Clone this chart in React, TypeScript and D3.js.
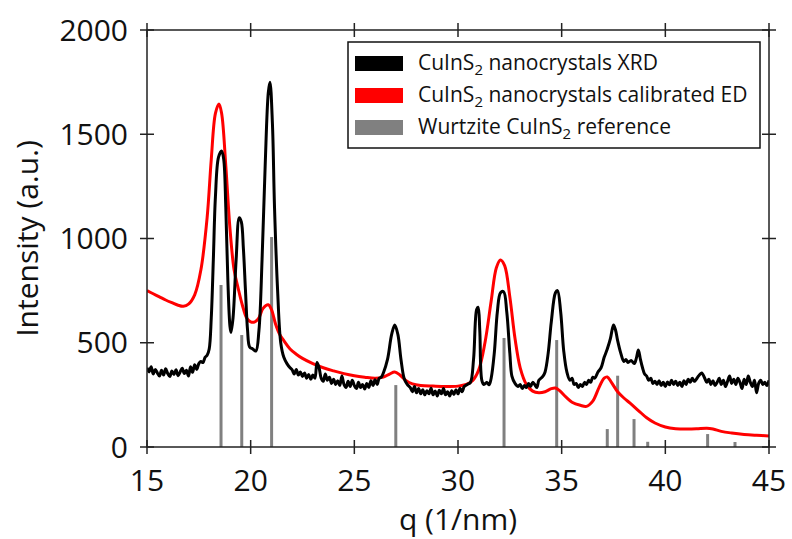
import React from "react";
import * as d3 from "d3";

// ---- data ----
const xrdQ = [15.0,15.1,15.2,15.3,15.4,15.5,15.6,15.7,15.8,15.9,16.0,16.1,16.2,16.3,16.4,16.5,16.6,16.7,16.8,16.9,17.0,17.1,17.2,17.3,17.4,17.5,17.6,17.7,17.8,17.9,18.0,18.1,18.2,18.3,18.45,18.6,18.7,18.8,18.9,19.0,19.05,19.15,19.3,19.45,19.55,19.65,19.75,19.85,19.95,20.1,20.25,20.4,20.55,20.7,20.85,20.93,21.05,21.15,21.3,21.45,21.6,21.75,21.9,22.0,22.1,22.2,22.3,22.4,22.5,22.6,22.7,22.8,22.9,23.0,23.1,23.2,23.3,23.4,23.5,23.6,23.7,23.8,23.9,24.0,24.1,24.2,24.3,24.4,24.5,24.6,24.7,24.8,24.9,25.0,25.1,25.2,25.3,25.4,25.5,25.6,25.7,25.8,25.9,26.0,26.1,26.2,26.3,26.4,26.6,26.8,26.95,27.1,27.25,27.4,27.55,27.7,27.8,27.9,28.0,28.1,28.2,28.3,28.4,28.5,28.6,28.7,28.8,28.9,29.0,29.1,29.2,29.3,29.4,29.5,29.6,29.7,29.8,29.9,30.0,30.1,30.2,30.3,30.45,30.6,30.75,30.9,30.97,31.05,31.15,31.25,31.4,31.5,31.6,31.75,31.9,32.05,32.2,32.35,32.5,32.6,32.75,32.9,33.0,33.1,33.2,33.3,33.4,33.5,33.6,33.7,33.8,33.9,34.0,34.1,34.2,34.35,34.5,34.7,34.8,34.95,35.1,35.25,35.4,35.5,35.6,35.7,35.8,35.9,36.0,36.1,36.2,36.3,36.4,36.5,36.6,36.75,36.9,37.05,37.2,37.35,37.5,37.6,37.7,37.85,38.0,38.1,38.2,38.35,38.5,38.6,38.7,38.8,38.9,39.0,39.1,39.2,39.3,39.4,39.5,39.6,39.7,39.8,39.9,40.0,40.1,40.2,40.3,40.4,40.5,40.6,40.7,40.8,40.9,41.0,41.1,41.2,41.3,41.4,41.6,41.75,41.9,42.0,42.1,42.2,42.3,42.4,42.5,42.6,42.7,42.8,42.9,43.0,43.1,43.2,43.3,43.4,43.5,43.6,43.7,43.8,43.9,44.0,44.1,44.2,44.3,44.4,44.5,44.6,44.7,44.8,44.9,45.0];
const xrdI = [380,360,385,350,372,355,340,368,345,375,352,338,365,348,370,342,360,378,352,368,340,385,358,395,372,400,410,405,430,440,470,620,900,1200,1390,1420,1380,1150,800,580,550,620,900,1100,1080,950,750,560,480,470,460,560,900,1350,1700,1750,1550,1150,750,500,430,400,380,370,350,372,345,360,338,355,330,348,325,345,330,405,380,330,315,350,320,335,305,325,300,318,295,340,300,285,315,290,320,295,280,310,285,300,278,305,285,318,295,322,300,330,335,355,420,540,585,540,420,330,300,285,265,290,260,280,255,275,250,270,255,282,250,268,245,272,255,280,250,265,245,270,252,275,255,282,265,290,300,310,420,660,670,560,320,300,310,298,330,450,650,740,745,650,450,340,305,290,300,280,295,285,305,290,310,300,285,320,330,340,360,450,600,740,750,650,460,360,320,330,300,305,285,300,290,310,300,320,310,335,330,360,380,430,470,520,585,560,510,450,410,420,405,415,400,425,465,420,380,350,340,320,330,305,315,300,318,295,310,290,312,298,320,300,315,295,310,290,318,300,325,310,330,315,340,355,330,310,325,300,318,295,310,330,300,320,290,315,340,305,325,300,330,310,280,325,300,340,310,290,320,260,305,320,300,310,295,320];

const edQ = [15.0,15.3,15.6,15.9,16.2,16.5,16.75,17.0,17.3,17.6,17.9,18.1,18.3,18.47,18.6,18.8,19.0,19.2,19.4,19.6,19.8,20.0,20.2,20.4,20.6,20.85,21.0,21.2,21.4,21.6,21.9,22.2,22.5,23.0,23.5,24.0,24.5,25.0,25.5,26.0,26.4,26.7,26.95,27.2,27.5,27.8,28.2,28.8,29.4,30.0,30.4,30.7,31.0,31.3,31.6,31.85,32.05,32.25,32.5,32.75,33.0,33.3,33.6,33.9,34.2,34.5,34.7,34.9,35.2,35.5,35.9,36.2,36.5,36.8,37.05,37.2,37.4,37.7,38.0,38.3,38.7,39.1,39.5,40.0,40.5,41.0,41.5,42.0,42.3,42.7,43.2,43.8,44.4,45.0];
const edI = [750,735,720,705,692,680,675,685,730,850,1100,1380,1600,1645,1600,1350,1050,850,760,680,620,600,600,620,665,682,660,590,540,510,470,445,425,400,380,365,352,342,335,330,335,350,360,345,318,303,295,292,290,292,300,318,370,500,700,860,897,870,720,520,380,300,268,260,265,280,283,270,240,215,200,195,220,285,330,336,310,265,235,210,175,140,115,96,88,86,87,90,86,75,67,60,56,53];

const refQ = [18.57,19.57,21.01,27.0,32.22,34.76,37.2,37.7,38.49,39.15,42.04,43.36];
const refI = [777,537,1007,297,523,513,86,342,134,25,62,24];

const xTicks = [15,20,25,30,35,40,45];
const yTicks = [0,500,1000,1500,2000];

const legendLabels = [
  ["CuInS", "2", " nanocrystals XRD"],
  ["CuInS", "2", " nanocrystals calibrated ED"],
  ["Wurtzite CuInS", "2", " reference"],
];
const legendColors = ["#000000", "#ff0000", "#808080"];

export default function App() {
  const W = 792, H = 539;
  const L = 147, R = 769, T = 30, B = 447;
  const x = d3.scaleLinear().domain([15, 45]).range([L, R]);
  const y = d3.scaleLinear().domain([0, 2000]).range([B, T]);
  const lineSmooth = d3.line<[number, number]>().x(d => x(d[0])).y(d => y(d[1])).curve(d3.curveCatmullRom.alpha(0.5));
  const xrd = xrdQ.map((q, i) => [q, xrdI[i]] as [number, number]);
  const ed = edQ.map((q, i) => [q, edI[i]] as [number, number]);
  const font = "'Open Sans', sans-serif";
  const tk = 7;
  return (
    <svg width={W} height={H} style={{ position: "absolute", left: 0, top: 0, background: "#fff" }} fontFamily={font}>
      <defs>
        <clipPath id="plot"><rect x={L} y={T} width={R - L} height={B - T} /></clipPath>
      </defs>
      <g clipPath="url(#plot)">
        {refQ.map((q, i) => (
          <line key={i} x1={x(q)} x2={x(q)} y1={y(0)} y2={y(refI[i])} stroke="#808080" strokeWidth={3} />
        ))}
        <path d={lineSmooth(ed) || ""} fill="none" stroke="#ff0000" strokeWidth={3} strokeLinejoin="round" />
        <path d={lineSmooth(xrd) || ""} fill="none" stroke="#000" strokeWidth={3} strokeLinejoin="round" />
      </g>
      <rect x={L} y={T} width={R - L} height={B - T} fill="none" stroke="#222" strokeWidth={1.5} />
      {xTicks.map(t => (
        <g key={"x" + t}>
          <line x1={x(t)} x2={x(t)} y1={B - tk} y2={B + tk} stroke="#222" strokeWidth={1.5} />
          <line x1={x(t)} x2={x(t)} y1={T - tk} y2={T + tk} stroke="#222" strokeWidth={1.5} />
          <text x={x(t)} y={B + 44} textAnchor="middle" fontSize={30} fill="#111">{t}</text>
        </g>
      ))}
      {yTicks.map(t => (
        <g key={"y" + t}>
          <line x1={L - tk} x2={L + tk} y1={y(t)} y2={y(t)} stroke="#222" strokeWidth={1.5} />
          <line x1={R - tk} x2={R + tk} y1={y(t)} y2={y(t)} stroke="#222" strokeWidth={1.5} />
          <text x={L - 19} y={y(t)} dy="0.35em" textAnchor="end" fontSize={30} fill="#111">{t}</text>
        </g>
      ))}
      <text x={(L + R) / 2} y={530} textAnchor="middle" fontSize={30} fill="#111">q (1/nm)</text>
      <text transform={`translate(38,${(T + B) / 2}) rotate(-90)`} textAnchor="middle" fontSize={30} fill="#111">Intensity (a.u.)</text>
      <rect x={348} y={42} width={412} height={106} fill="#fff" stroke="#111" strokeWidth={1.5} />
      {legendLabels.map((lab, i) => {
        const cy = [63, 95, 127][i];
        return (
          <g key={"l" + i}>
            <rect x={355} y={cy - 7} width={48} height={15} fill={legendColors[i]} />
            <text x={418} y={cy} dy="0.35em" fontSize={21} fill="#111">
              {lab[0]}
              <tspan fontSize={15} dy="5">{lab[1]}</tspan>
              <tspan dy="-5">{lab[2]}</tspan>
            </text>
          </g>
        );
      })}
    </svg>
  );
}
